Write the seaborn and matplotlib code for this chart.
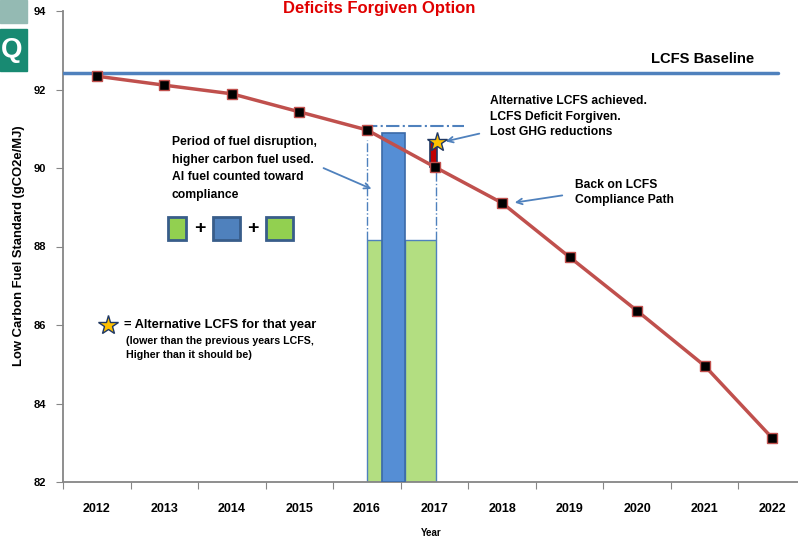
import numpy as np
import pandas as pd
import matplotlib
matplotlib.use("Agg")
import matplotlib.pyplot as plt
from matplotlib.patches import Rectangle
import seaborn as sns

# data
years = ['2012', '2013', '2014', '2015', '2016', '2017', '2018', '2019', '2020', '2021', '2022']
lcfs = [92.34, 92.11, 91.89, 91.43, 90.97, 90.03, 89.11, 87.73, 86.36, 84.96, 83.12]
baseline = 92.42
green_top = 88.17
blue_top = 90.88
alt_lcfs = 90.65
disruption_top = 91.08
yticks = [82, 84, 86, 88, 90, 92, 94]

sns.set_style("white")
FONT = ['Liberation Sans', 'DejaVu Sans']
plt.rcParams['font.family'] = FONT
plt.rcParams['font.weight'] = 'bold'
plt.rcParams['text.color'] = 'black'
plt.rcParams['xtick.color'] = 'black'
plt.rcParams['ytick.color'] = 'black'

W, H = 798, 542
fig = plt.figure(figsize=(W / 100, H / 100), dpi=100)

def fx(px):
    return px / W

def fy(py):
    return 1 - py / H

# axes run past the right edge like the original slide crop
ax = fig.add_axes([fx(63), fy(482), fx(806) - fx(63), fy(11) - fy(482)])

x = np.arange(len(years))
df = pd.DataFrame({'x': x, 'lcfs': lcfs})

# bars for the disruption period
ax.bar(4.0, green_top - 82, width=0.226, bottom=82, align='edge',
       color='#B3DE81', edgecolor='#4F81BD', linewidth=1, zorder=2)
ax.bar(4.567, green_top - 82, width=0.459, bottom=82, align='edge',
       color='#B3DE81', edgecolor='#4F81BD', linewidth=1, zorder=2)
ax.bar(4.226, blue_top - 82, width=0.341, bottom=82, align='edge',
       color='#558ED5', edgecolor='#3B6AA8', linewidth=1.2, zorder=3)
# dash-dot outline
ax.plot([4.0, 4.0], [green_top, 90.72], color='#4F81BD', lw=1, ls='-.', zorder=2)
ax.plot([5.026, 5.026], [green_top, 90.0], color='#4F81BD', lw=1, ls='-.', zorder=2)
ax.plot([3.95, 5.43], [disruption_top, disruption_top], color='#4F81BD', lw=1.5, ls='-.', zorder=2)
# red deficit bar
ax.bar(4.94, alt_lcfs - lcfs[5], width=0.09, bottom=lcfs[5], align='edge',
       color='#C00000', edgecolor='#1F3864', linewidth=1.2, zorder=4)

ax.plot([-0.5, 10.09], [baseline, baseline], color='#4F81BD', lw=2.5, zorder=3)

sns.lineplot(data=df, x='x', y='lcfs', ax=ax, color='#C0504D', lw=2.5,
             marker='s', markersize=7, markerfacecolor='black',
             markeredgecolor='#C0504D', markeredgewidth=1, zorder=5)

ax.plot(5.03, alt_lcfs, marker='*', markersize=15, color='#FFC000',
        markeredgecolor='#1F3864', markeredgewidth=1, zorder=6)

ax.set_xlim(-0.5, 10.5)
ax.set_ylim(82, 94)
ax.set_yticks(yticks)
ax.set_yticklabels([str(v) for v in yticks], fontsize=8, fontweight='bold')
ax.set_xticks(np.arange(-0.5, 11, 1))
ax.set_xticklabels([])
ax.set_xticks(x, minor=True)
ax.set_xticklabels(years, minor=True, fontsize=9, fontweight='bold')
ax.tick_params(axis='x', which='major', length=5, color='#868686', direction='out', bottom=True)
ax.tick_params(axis='x', which='minor', length=0, pad=15)
ax.tick_params(axis='y', length=5, color='#868686', direction='out', left=True, pad=7)
ax.set_xlabel('')
ax.set_ylabel('')
for s in ['top', 'right']:
    ax.spines[s].set_visible(False)
for s in ['left', 'bottom']:
    ax.spines[s].set_color('#868686')
    ax.spines[s].set_linewidth(1.3)

# labels
fig.text(fx(431), fy(533), 'Year', ha='center', va='center', fontsize=7, fontweight='bold')
fig.text(fx(19), fy(246), 'Low Carbon Fuel Standard (gCO2e/MJ)', rotation=90,
         ha='center', va='center', fontsize=9.4, fontweight='bold')
fig.text(fx(379), fy(1), 'Deficits Forgiven Option', ha='center', va='top',
         fontsize=12, fontweight='bold', color='#E00000')

# logo
fig.patches.append(Rectangle((0, fy(23)), fx(27), fy(0) - fy(23),
                             transform=fig.transFigure, color='#94BAB3', zorder=0))
fig.patches.append(Rectangle((0, fy(71)), fx(27), fy(29) - fy(71),
                             transform=fig.transFigure, color='#188A72', zorder=0))
fig.text(fx(12), fy(50), 'Q', ha='center', va='center', fontsize=20,
         fontweight='bold', color='white')

# annotations
fig.text(fx(172), fy(136), 'Period of fuel disruption,\nhigher carbon fuel used.\nAl fuel counted toward\ncompliance',
         ha='left', va='top', fontsize=8.7, fontweight='bold', linespacing=1.62)
fig.text(fx(490), fy(95), 'Alternative LCFS achieved.\nLCFS Deficit Forgiven.\nLost GHG reductions',
         ha='left', va='top', fontsize=8.7, fontweight='bold', linespacing=1.4)
fig.text(fx(575), fy(179), 'Back on LCFS\nCompliance Path',
         ha='left', va='top', fontsize=8.7, fontweight='bold', linespacing=1.38)
fig.text(fx(651), fy(59), 'LCFS Baseline', ha='left', va='center', fontsize=10.6, fontweight='bold')

arrow = dict(arrowstyle='->', color='#4F81BD', lw=1.3)
ax.annotate('', xy=(fx(374), fy(190)), xytext=(fx(321), fy(167)),
            xycoords='figure fraction', textcoords='figure fraction', arrowprops=arrow)
ax.annotate('', xy=(fx(443), fy(142)), xytext=(fx(482), fy(133)),
            xycoords='figure fraction', textcoords='figure fraction', arrowprops=arrow)
ax.annotate('', xy=(fx(512), fy(203)), xytext=(fx(565), fy(195)),
            xycoords='figure fraction', textcoords='figure fraction', arrowprops=arrow)

# small boxes: green + blue + green
def box(x0, x1, color):
    fig.patches.append(Rectangle((fx(x0), fy(240)), fx(x1) - fx(x0), fy(217) - fy(240),
                                 transform=fig.transFigure, facecolor=color,
                                 edgecolor='#385D8A', linewidth=2, zorder=3))

box(168, 186, '#92D050')
box(213, 240, '#4F81BD')
box(266, 293, '#92D050')
fig.text(fx(200), fy(229), '+', ha='center', va='center', fontsize=14, fontweight='bold')
fig.text(fx(253), fy(229), '+', ha='center', va='center', fontsize=14, fontweight='bold')

# star legend
ax.plot([fx(108)], [fy(325)], marker='*', markersize=15, color='#FFC000',
        markeredgecolor='#1F3864', markeredgewidth=1, transform=fig.transFigure, clip_on=False)
fig.text(fx(124), fy(325), '= Alternative LCFS for that year', ha='left', va='center',
         fontsize=9.3, fontweight='bold')
fig.text(fx(126), fy(336), '(lower than the previous years LCFS,\nHigher than it should be)',
         ha='left', va='top', fontsize=7.7, fontweight='bold', linespacing=1.45)

fig.savefig('out.png', dpi=100)
